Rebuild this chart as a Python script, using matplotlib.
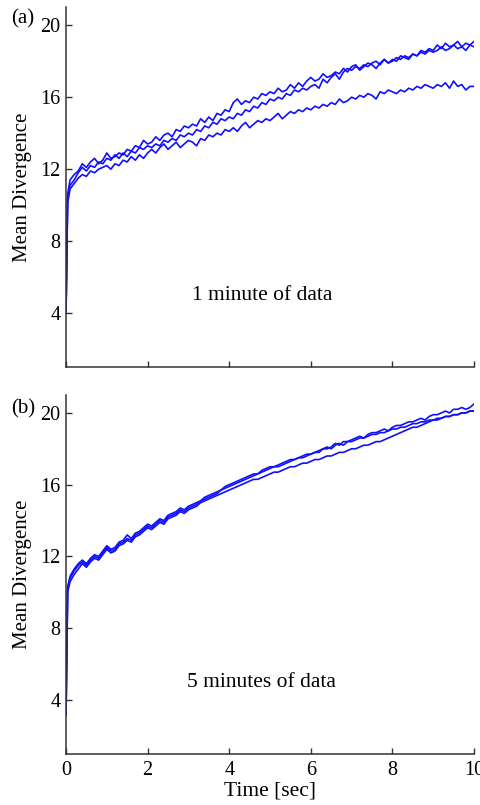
import numpy as np
import matplotlib
matplotlib.use("Agg")
from matplotlib import pyplot as plt

plt.rcParams['font.family'] = ['Liberation Serif', 'DejaVu Serif']

# time axis [sec]: start, one early sample, then 0.1 s steps
time = [0.0, 0.04] + [round(0.1 * i, 1) for i in range(1, 101)]

# (a) 1 minute of data - three runs
a_run1 = [4.0, 10.6,
          11.4, 11.7, 11.9, 12.3, 12.1, 12.4, 12.6, 12.3, 12.5, 12.9,
          12.6, 12.7, 12.9, 12.8, 13.1, 13.0, 13.3, 13.2, 13.6, 13.4,
          13.5, 13.8, 13.6, 13.9, 14.0, 13.8, 14.2, 14.1, 14.4, 14.3,
          14.5, 14.4, 14.8, 14.6, 14.9, 14.7, 15.1, 15.0, 15.3, 15.2,
          15.7, 15.9, 15.6, 15.8, 15.7, 16.0, 15.9, 16.2, 16.1, 16.3,
          16.2, 16.5, 16.3, 16.4, 16.7, 16.5, 16.8, 16.6, 16.9, 17.1,
          16.9, 17.0, 17.3, 17.1, 17.2, 17.4, 17.3, 17.6, 17.4, 17.7,
          17.8, 17.5, 17.7, 17.9, 17.8, 17.6, 17.9, 18.1, 17.9, 18.1,
          18.0, 18.3, 18.2, 18.1, 18.4, 18.3, 18.6, 18.5, 18.7, 18.6,
          18.9, 18.7, 19.0, 18.8, 18.9, 19.1, 18.8, 19.0, 18.9, 19.1]
a_run2 = [4.0, 10.4,
          11.1, 11.4, 11.8, 12.1, 11.9, 12.2, 12.1, 12.4, 12.3, 12.6,
          12.5, 12.8, 12.6, 12.9, 12.7, 13.0, 12.9, 13.2, 13.1, 13.3,
          13.2, 13.4, 13.3, 13.6, 13.5, 13.7, 13.6, 13.9, 13.8, 14.0,
          13.9, 14.2, 14.1, 14.4, 14.3, 14.6, 14.5, 14.8, 14.7, 14.9,
          14.8, 15.1, 15.0, 15.3, 15.2, 15.5, 15.4, 15.7, 15.6, 15.9,
          15.8, 16.0, 15.9, 16.2, 16.1, 16.4, 16.3, 16.5, 16.4, 16.6,
          16.7, 16.5, 17.0, 16.8, 17.1, 17.3, 17.0, 17.4, 17.6, 17.5,
          17.7, 17.6, 17.8, 17.7, 17.9, 18.0, 17.8, 18.1, 17.9, 18.0,
          18.2, 18.1, 18.3, 18.2, 18.4, 18.3, 18.5, 18.4, 18.6, 18.5,
          18.6, 18.8, 18.6, 18.7, 18.9, 18.7, 18.8, 18.6, 18.9, 18.8]
a_run3 = [4.0, 10.1,
          10.9, 11.2, 11.5, 11.7, 11.6, 11.9, 11.8, 12.0, 12.1, 12.2,
          12.0, 12.3, 12.2, 12.5, 12.4, 12.7, 12.5, 12.8, 12.6, 12.9,
          13.1, 12.9, 13.2, 13.4, 13.1, 13.3, 13.5, 13.2, 13.4, 13.6,
          13.5, 13.3, 13.7, 13.6, 13.9, 13.8, 14.0, 13.9, 14.2, 14.1,
          14.3, 14.1, 14.4, 14.6, 14.3, 14.5, 14.7, 14.6, 14.8, 14.7,
          14.9, 15.1, 14.8, 15.0, 15.2, 15.1, 15.3, 15.2, 15.4, 15.3,
          15.5, 15.4, 15.6, 15.5, 15.7, 15.6, 15.9, 15.7, 15.8, 16.0,
          15.9, 16.1, 16.0, 16.2, 16.1, 15.9, 16.3, 16.2, 16.4, 16.3,
          16.2, 16.4, 16.3, 16.5, 16.4, 16.6, 16.5, 16.7, 16.6, 16.5,
          16.7, 16.6, 16.8, 16.5, 16.9, 16.6, 16.7, 16.4, 16.6, 16.6]

# (b) 5 minutes of data - three runs
b_run1 = [3.2, 10.3,
          10.9, 11.3, 11.6, 11.8, 11.6, 11.9, 12.1, 12.0, 12.3, 12.6,
          12.4, 12.5, 12.8, 12.9, 13.2, 13.0, 13.3, 13.4, 13.6, 13.8,
          13.7, 13.9, 14.1, 14.0, 14.3, 14.4, 14.5, 14.7, 14.6, 14.8,
          14.9, 15.0, 15.1, 15.3, 15.4, 15.5, 15.6, 15.7, 15.9, 16.0,
          16.1, 16.2, 16.3, 16.4, 16.5, 16.6, 16.6, 16.8, 16.9, 17.0,
          17.0, 17.1, 17.2, 17.3, 17.4, 17.4, 17.5, 17.6, 17.7, 17.7,
          17.8, 17.9, 18.0, 18.0, 18.1, 18.3, 18.2, 18.4, 18.4, 18.5,
          18.6, 18.7, 18.6, 18.8, 18.9, 18.9, 19.0, 19.1, 19.0, 19.2,
          19.3, 19.3, 19.4, 19.5, 19.5, 19.6, 19.7, 19.6, 19.8, 19.9,
          19.9, 20.0, 20.1, 20.0, 20.2, 20.2, 20.3, 20.2, 20.3, 20.5]
b_run2 = [3.2, 10.2,
          10.8, 11.2, 11.5, 11.7, 11.5, 11.8, 12.0, 11.9, 12.2, 12.5,
          12.3, 12.4, 12.7, 12.8, 13.0, 12.9, 13.2, 13.3, 13.5, 13.7,
          13.6, 13.8, 14.0, 13.9, 14.2, 14.3, 14.4, 14.6, 14.5, 14.7,
          14.8, 14.9, 15.1, 15.2, 15.3, 15.4, 15.5, 15.7, 15.8, 15.9,
          16.0, 16.1, 16.2, 16.3, 16.4, 16.5, 16.6, 16.7, 16.8, 16.9,
          17.0, 17.0, 17.1, 17.2, 17.3, 17.4, 17.5, 17.5, 17.6, 17.7,
          17.8, 17.8, 18.0, 18.1, 18.0, 18.2, 18.3, 18.2, 18.4, 18.4,
          18.5, 18.6, 18.6, 18.7, 18.8, 18.8, 18.9, 18.9, 19.0, 19.1,
          19.1, 19.2, 19.2, 19.3, 19.4, 19.4, 19.5, 19.5, 19.6, 19.6,
          19.7, 19.7, 19.8, 19.8, 19.9, 19.9, 20.0, 20.0, 20.1, 20.1]
b_run3 = [3.2, 10.0,
          10.6, 11.0, 11.3, 11.6, 11.4, 11.7, 11.9, 11.8, 12.1, 12.4,
          12.2, 12.3, 12.6, 12.7, 12.9, 12.8, 13.1, 13.2, 13.4, 13.6,
          13.5, 13.7, 13.9, 13.8, 14.1, 14.2, 14.3, 14.5, 14.4, 14.6,
          14.7, 14.8, 15.0, 15.1, 15.2, 15.3, 15.4, 15.5, 15.6, 15.7,
          15.8, 15.9, 16.0, 16.1, 16.2, 16.3, 16.3, 16.4, 16.5, 16.6,
          16.7, 16.7, 16.8, 16.9, 17.0, 17.0, 17.1, 17.2, 17.2, 17.3,
          17.4, 17.4, 17.5, 17.6, 17.6, 17.7, 17.8, 17.8, 17.9, 18.0,
          18.0, 18.1, 18.2, 18.2, 18.3, 18.4, 18.4, 18.5, 18.6, 18.7,
          18.8, 18.9, 19.0, 19.1, 19.2, 19.2, 19.3, 19.4, 19.5, 19.6,
          19.6, 19.7, 19.8, 19.8, 19.9, 19.9, 20.0, 20.0, 20.1, 20.1]

panels = [("(a)", "1 minute of data", [a_run1, a_run2, a_run3]),
          ("(b)", "5 minutes of data", [b_run1, b_run2, b_run3])]
y_ticks = [4, 8, 12, 16, 20]
x_ticks = [0, 2, 4, 6, 8, 10]

fig = plt.figure(figsize=(4.8, 8.05), dpi=100)
boxes = [[0.1375, 0.544, 0.85, 0.447], [0.1375, 0.0634, 0.85, 0.446]]
label_y = [1 - 19 / 805, 1 - 409 / 805]

for i, (tag, note, runs) in enumerate(panels):
    ax = fig.add_axes(boxes[i])
    for run in runs:
        ax.plot(time, run, color='#1010ff', lw=1.2)
    ax.set_xlim(0, 10)
    ax.set_ylim(1, 21)
    ax.set_xticks(x_ticks)
    ax.set_yticks(y_ticks)
    ax.spines['top'].set_visible(False)
    ax.spines['right'].set_visible(False)
    for s in ('left', 'bottom'):
        ax.spines[s].set_linewidth(1.1)
        ax.spines[s].set_color('#333333')
    ax.tick_params(direction='in', length=4, width=1, labelsize=14.5, color='#333333')
    ax.tick_params(axis='y', pad=4)
    ax.tick_params(axis='x', pad=5)
    ax.set_ylabel('Mean Divergence', fontsize=15, labelpad=6)
    ax.text(4.8, 5.0, note, ha='center', va='center', fontsize=15.5)
    if i == 0:
        ax.tick_params(labelbottom=False)
    else:
        ax.set_xlabel('Time [sec]', fontsize=15.5, labelpad=1)
    fig.text(11 / 480, label_y[i], tag, ha='left', va='center', fontsize=15)

plt.savefig('out.png', dpi=100)
